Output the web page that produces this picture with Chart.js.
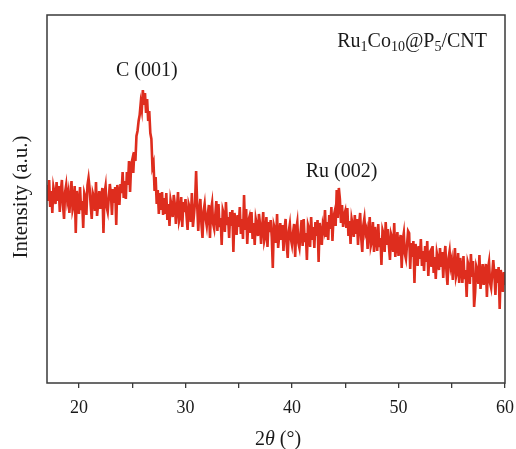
<!DOCTYPE html>
<html>
<head>
<meta charset="utf-8">
<script src="https://cdn.jsdelivr.net/npm/chart.js@4/dist/chart.umd.min.js"></script>
<style>
  body { margin: 0; padding: 0; background: #fff; }
  #wrap { width: 516px; height: 449px; }
</style>
</head>
<body>
<div id="wrap"><canvas id="myChart" width="516" height="449"></canvas></div>
<script>
// XRD scan, 2theta from 17 to 60 deg in 0.1 deg steps (intensity in a.u.)
const thetaStart = 17;
const thetaStep = 0.1;
const intensity = [
  198,182,203,176,192,170,196,190,179,201,
  182,197,171,192,203,178,164,191,198,183,
  190,170,186,202,173,178,197,150,192,182,
  169,196,173,182,155,190,186,168,198,205,
  195,178,164,190,186,172,201,167,179,192,
  174,186,195,150,190,197,176,171,185,199,
  189,168,194,180,196,158,198,190,178,199,
  190,211,185,202,184,211,198,222,191,218,
  223,210,231,222,247,252,262,268,280,273,
  293,278,290,270,284,262,272,250,244,216,
  220,192,206,179,193,169,190,173,191,168,
  185,169,190,163,179,157,183,177,166,188,
  179,159,175,191,162,167,186,156,181,171,
  184,167,153,179,175,161,190,156,168,181,
  212,178,152,173,184,159,145,172,179,164,
  157,169,178,145,173,180,159,154,168,182,
  152,179,156,165,138,173,169,151,181,158,
  166,145,171,157,173,131,170,162,148,168,
  156,176,149,164,144,188,153,174,139,162,
  166,150,171,144,160,138,164,158,147,169,
  159,139,155,171,142,147,166,136,161,151,
  163,146,115,158,154,140,169,135,147,160,
  143,158,132,153,164,139,125,152,159,144,
  138,150,159,126,154,161,140,135,149,163,
  137,164,141,150,123,158,154,136,166,143,
  156,135,161,147,163,121,160,152,138,158,
  153,173,146,161,143,168,154,176,142,166,
  171,157,193,165,195,184,160,178,156,168,
  172,155,175,147,162,139,164,158,146,168,
  149,164,138,159,170,145,131,158,165,150,
  154,134,150,166,137,142,161,131,156,146,
  132,159,136,145,118,153,149,131,161,138,
  154,137,123,149,145,131,160,126,138,151,
  127,139,148,115,143,150,129,124,138,152,
  150,114,140,126,142,100,139,131,117,137,
  124,144,117,132,112,137,121,142,107,130,
  132,116,137,110,126,104,130,124,113,135,
  116,131,105,126,137,112,98,125,132,117,
  123,103,119,135,106,111,130,100,125,115,
  100,127,104,113,86,121,117,99,129,106,
  122,76,91,117,113,99,128,94,106,119,
  98,110,119,86,114,121,100,95,109,123,
  109,88,114,100,116,74,113,105,91,111,
  98
];
const xTickValues = [20, 25, 30, 35, 40, 45, 50, 55, 60];
const xTickLabels = ["20", "", "30", "", "40", "", "50", "", "60"];
const peakLabels = ["C (001)", "Ru (002)"];
const peakAt = [[26.37, 307], [44.65, 206]]; // [2theta, intensity] where labels sit

const points = intensity.map((v, i) => ({ x: +(thetaStart + i * thetaStep).toFixed(1), y: v }));

const serif = "'Liberation Serif', 'DejaVu Serif', serif";

// frame, titles and peak labels
const decor = {
  id: "decor",
  afterDraw(chart) {
    const ctx = chart.ctx;
    const a = chart.chartArea;
    const xs = chart.scales.x, ys = chart.scales.y;
    ctx.save();
    ctx.strokeStyle = "#3a3a3a";
    ctx.lineWidth = 1.5;
    ctx.strokeRect(a.left, a.top, a.right - a.left, a.bottom - a.top);

    ctx.fillStyle = "#1a1a1a";
    ctx.textBaseline = "alphabetic";
    ctx.textAlign = "center";
    ctx.font = "20px " + serif;
    peakLabels.forEach((t, i) => {
      ctx.fillText(t, xs.getPixelForValue(peakAt[i][0]), ys.getPixelForValue(peakAt[i][1]));
    });

    // sample name with subscripts
    const parts = [["Ru", 0], ["1", 1], ["Co", 0], ["10", 1], ["@P", 0], ["5", 1], ["/CNT", 0]];
    const big = "20px " + serif, small = "14px " + serif;
    let w = 0;
    parts.forEach(p => { ctx.font = p[1] ? small : big; w += ctx.measureText(p[0]).width; });
    let x = 487 - w;
    ctx.textAlign = "left";
    parts.forEach(p => {
      ctx.font = p[1] ? small : big;
      ctx.fillText(p[0], x, p[1] ? 51 : 47);
      x += ctx.measureText(p[0]).width;
    });

    // x title: 2θ (°)
    const t1 = "2", t2 = "θ", t3 = " (°)";
    ctx.font = "20px " + serif; const w1 = ctx.measureText(t1).width, w3 = ctx.measureText(t3).width;
    ctx.font = "italic 20px " + serif; const w2 = ctx.measureText(t2).width;
    let cx = (a.left + a.right) / 2 - (w1 + w2 + w3) / 2 + 2;
    ctx.font = "20px " + serif; ctx.fillText(t1, cx, 445); cx += w1;
    ctx.font = "italic 20px " + serif; ctx.fillText(t2, cx, 445); cx += w2;
    ctx.font = "20px " + serif; ctx.fillText(t3, cx, 445);

    // y title
    ctx.translate(27, (a.top + a.bottom) / 2 - 2);
    ctx.rotate(-Math.PI / 2);
    ctx.textAlign = "center";
    ctx.font = "21px " + serif;
    ctx.fillText("Intensity (a.u.)", 0, 0);
    ctx.restore();
  }
};

new Chart(document.getElementById("myChart").getContext("2d"), {
  type: "line",
  data: {
    datasets: [{
      data: points,
      borderColor: "rgb(222, 45, 30)",
      borderWidth: 2.6,
      pointRadius: 0,
      tension: 0,
      fill: false
    }]
  },
  options: {
    responsive: false,
    animation: false,
    events: [],
    layout: { padding: { left: 47, right: 11, top: 15, bottom: 0 } },
    plugins: { legend: { display: false }, tooltip: { enabled: false } },
    scales: {
      x: {
        type: "linear",
        min: 17,
        max: 60,
        afterBuildTicks: axis => { axis.ticks = xTickValues.map(v => ({ value: v })); },
        afterFit: axis => {
          axis.height = 66;
          axis.paddingLeft = 0;
          axis.paddingRight = 0;
        },
        ticks: {
          autoSkip: false,
          maxRotation: 0,
          color: "#1a1a1a",
          font: { family: serif, size: 18 },
          padding: 9,
          callback: v => xTickLabels[xTickValues.indexOf(v)]
        },
        grid: { drawOnChartArea: false, tickLength: 5, color: "#3a3a3a", lineWidth: 1.3 },
        border: { display: false }
      },
      y: {
        display: false,
        min: 0,
        max: 368
      }
    }
  },
  plugins: [decor]
});
</script>
</body>
</html>
